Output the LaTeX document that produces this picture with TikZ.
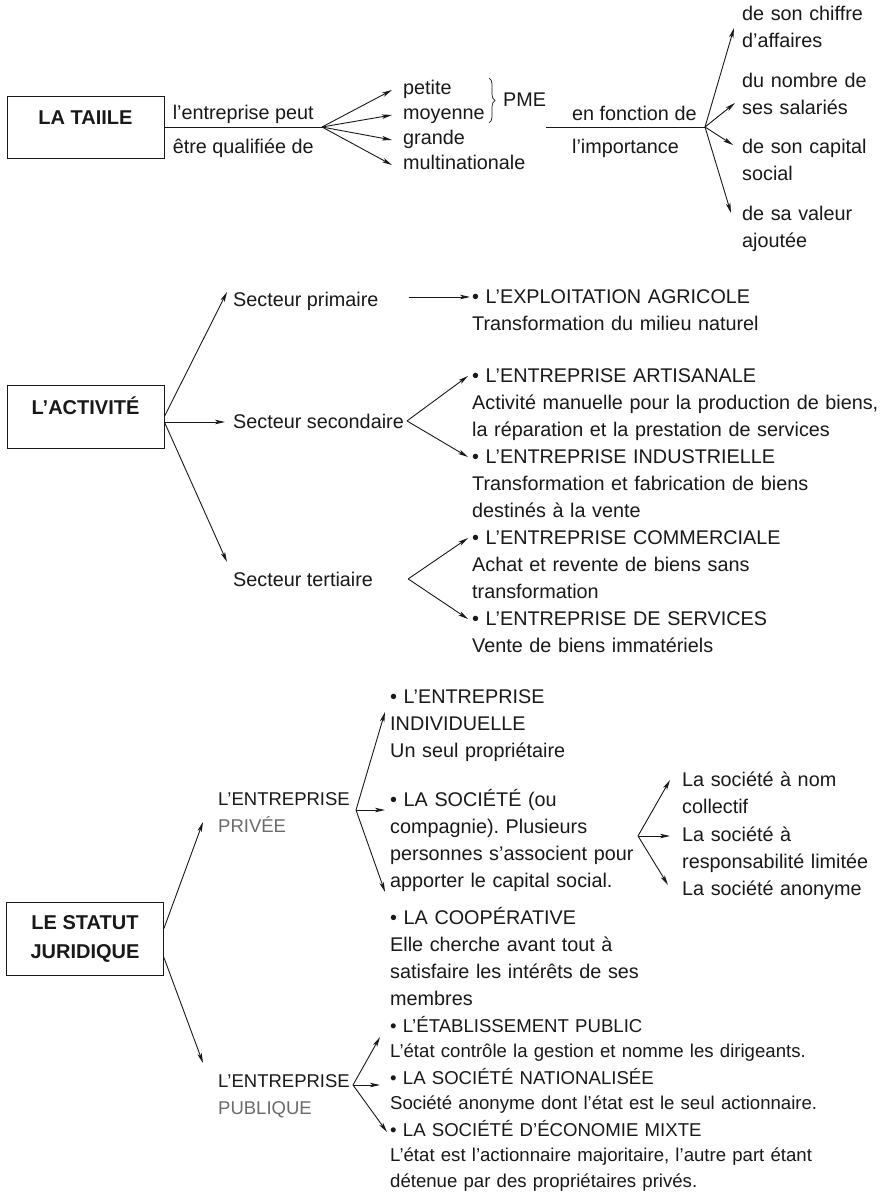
\documentclass[tikz,border=0pt]{standalone}
\usepackage{fontspec}
\setmainfont{Liberation Sans}
\usetikzlibrary{arrows.meta,decorations.pathreplacing}
\definecolor{ink}{gray}{.1}
\definecolor{pale}{gray}{.42}
\frenchspacing

\begin{document}
\begin{tikzpicture}[x=1pt,y=-1pt,
  line/.style={draw=ink, line width=.9pt},
  arr/.style={line, -{Stealth[length=10pt,width=4.5pt,inset=2.5pt]}},
  catbox/.style={draw=ink, line width=.8pt, minimum width=157pt, align=center, text=ink,
    font=\fontsize{20}{29}\selectfont\bfseries},
  word/.style={anchor=base west, inner sep=0pt, text=ink, font=\fontsize{19.8}{27}\selectfont},
  item/.style={word, text width=480pt, align=left},
  small/.style={font=\fontsize{18.6}{25.8}\selectfont},
  side/.style={item, font=\fontsize{18.5}{27}\selectfont}]
\useasboundingbox (0,0) rectangle (883,1193);
\fill[white] (0,0) rectangle (883,1193);

\node[catbox, text height=14pt, text depth=19pt, minimum height=62pt] (taille) at (85.5,127) {LA TAIILE};
\coordinate (fanA) at (322,127);
\draw[line] (taille.east) -- node[word, anchor=south, above=3pt] (peut) {l'entreprise peut}
  node[word, anchor=north, below=11pt] (qualif) {être qualifiée de} (fanA);
\node[word] (petite) at (403,95) {petite};
\node[word] (moyenne) at (403,120) {moyenne};
\node[word] (grande) at (403,145) {grande};
\node[word] (multi) at (403,170) {multinationale};
\draw[arr] (fanA) -- ([xshift=-11pt,yshift=5pt]petite.base west);
\draw[arr] (fanA) -- ([xshift=-11pt,yshift=5pt]moyenne.base west);
\draw[arr] (fanA) -- ([xshift=-11pt,yshift=5pt]grande.base west);
\draw[arr] (fanA) -- ([xshift=-11pt,yshift=5pt]multi.base west);
\draw[line, line width=.7pt, decorate, decoration={brace,amplitude=6pt}] (489,78) -- (489,123);
\node[word] (pme) at (503,107) {PME};
\coordinate (fanB) at (705,127);
\draw[line] (pme.east |- fanB) -- node[word, pos=.16, yshift=6pt] (fonction) {en fonction de}
  node[word, pos=.16, yshift=-27pt] (importance) {l'importance} (fanB);
\node[item] (chiffre) at (742,21) {de son chiffre\\d'affaires};
\node[item] (salaries) at (742,87.5) {du nombre de\\ses salariés};
\node[item] (capital) at (742,154) {de son capital\\social};
\node[item] (valeur) at (742,220.5) {de sa valeur\\ajoutée};
\draw[arr] (fanB) -- ([xshift=-8pt,yshift=-7pt]chiffre.base west);
\draw[arr] (fanB) -- ([xshift=-7pt,yshift=-15.5pt]salaries.base west);
\draw[arr] (fanB) -- ([xshift=-9pt,yshift=9pt]capital.base west);
\draw[arr] (fanB) -- ([xshift=-11pt,yshift=7.5pt]valeur.base west);

\node[catbox, text height=14pt, text depth=19pt, minimum height=63pt] (activite) at (85.5,416.5) {L'ACTIVITÉ};
\node[word] (primaire) at (233,306) {Secteur primaire};
\node[word] (secondaire) at (233,428) {Secteur secondaire};
\node[word] (tertiaire) at (233,586) {Secteur tertiaire};
\coordinate (secT) at ([xshift=-8pt,yshift=6pt]secondaire.base west);
\draw[arr] (activite.east) -- ([xshift=-6pt,yshift=14pt]primaire.base west);
\draw[arr] (activite.east |- secT) -- (secT);
\draw[arr] (activite.east |- secT) -- ([xshift=-6pt,yshift=24pt]tertiaire.base west);
\node[item] (exploit) at (472,303) {• L'EXPLOITATION AGRICOLE\\Transformation du milieu naturel};
\coordinate (exploitT) at ([xshift=-2pt,yshift=6pt]exploit.base west);
\draw[arr] ([xshift=30pt]primaire.east |- exploitT) -- (exploitT);
\node[item] (artisanale) at (472,382) {• L'ENTREPRISE ARTISANALE\\Activité manuelle pour la production de biens,\\la réparation et la prestation de services};
\node[item] (industrielle) at (472,463) {• L'ENTREPRISE INDUSTRIELLE\\Transformation et fabrication de biens\\destinés à la vente};
\coordinate (fanSec) at ([xshift=3pt]secondaire.east);
\draw[arr] (fanSec) -- ([xshift=-4pt,yshift=6pt]artisanale.base west);
\draw[arr] (fanSec) -- ([xshift=-4pt,yshift=6pt]industrielle.base west);
\node[item] (commerciale) at (472,544) {• L'ENTREPRISE COMMERCIALE\\Achat et revente de biens sans\\transformation};
\node[item] (services) at (472,625) {• L'ENTREPRISE DE SERVICES\\Vente de biens immatériels};
\coordinate (fanTer) at ([xshift=35pt]tertiaire.east);
\draw[arr] (fanTer) -- ([xshift=-4pt,yshift=6pt]commerciale.base west);
\draw[arr] (fanTer) -- ([xshift=-4pt,yshift=6pt]services.base west);

\node[catbox, minimum height=73pt] (statut) at (85,938.5) {LE STATUT\\JURIDIQUE};
\node[side] (prive) at (218,805) {L'ENTREPRISE\\\textcolor{pale}{PRIVÉE}};
\node[side] (publique) at (218,1087) {L'ENTREPRISE\\\textcolor{pale}{PUBLIQUE}};
\draw[arr] ([yshift=10pt]statut.east) -- ([xshift=-15pt,yshift=-17pt]prive.base west);
\draw[arr] ([yshift=-19pt]statut.east) -- ([xshift=-15pt,yshift=24pt]publique.base west);
\coordinate (fanPr) at (356,810);
\node[item] (indiv) at (390,703) {• L'ENTREPRISE\\INDIVIDUELLE\\Un seul propriétaire};
\node[item] (societe) at (390,806) {• LA SOCIÉTÉ (ou\\compagnie). Plusieurs\\personnes s'associent pour\\apporter le capital social.};
\node[item] (coop) at (390,924) {• LA COOPÉRATIVE\\Elle cherche avant tout à\\satisfaire les intérêts de ses\\membres};
\draw[arr] (fanPr) -- ([xshift=-5pt,yshift=-9pt]indiv.base west);
\draw[arr] (fanPr) -- ([xshift=-5pt,yshift=-4pt]societe.base west);
\draw[arr] (fanPr) -- ([xshift=-5pt,yshift=32pt]coop.base west);
\coordinate (fanSo) at (638,836);
\node[item] (nom) at (682,786) {La société à nom\\collectif};
\node[item] (resp) at (682,841) {La société à\\responsabilité limitée};
\node[item] (anonyme) at (682,895) {La société anonyme};
\draw[arr] (fanSo) -- ([xshift=-12pt,yshift=6pt]nom.base west);
\draw[arr] (fanSo) -- ([xshift=-12pt,yshift=5pt]resp.base west);
\draw[arr] (fanSo) -- ([xshift=-14pt,yshift=10pt]anonyme.base west);
\coordinate (fanPu) at (353,1085);
\node[item, small] (etab) at (390,1032) {• L'ÉTABLISSEMENT PUBLIC\\L'état contrôle la gestion et nomme les dirigeants.};
\node[item, small] (national) at (390,1084) {• LA SOCIÉTÉ NATIONALISÉE\\Société anonyme dont l'état est le seul actionnaire.};
\node[item, small] (mixte) at (390,1136) {• LA SOCIÉTÉ D'ÉCONOMIE MIXTE\\L'état est l'actionnaire majoritaire, l'autre part étant\\détenue par des propriétaires privés.};
\draw[arr] (fanPu) -- ([xshift=-10pt,yshift=-5pt]etab.base west);
\draw[arr] (fanPu) -- ([xshift=-10pt,yshift=-1pt]national.base west);
\draw[arr] (fanPu) -- ([xshift=-3pt,yshift=4pt]mixte.base west);
\end{tikzpicture}
\end{document}
